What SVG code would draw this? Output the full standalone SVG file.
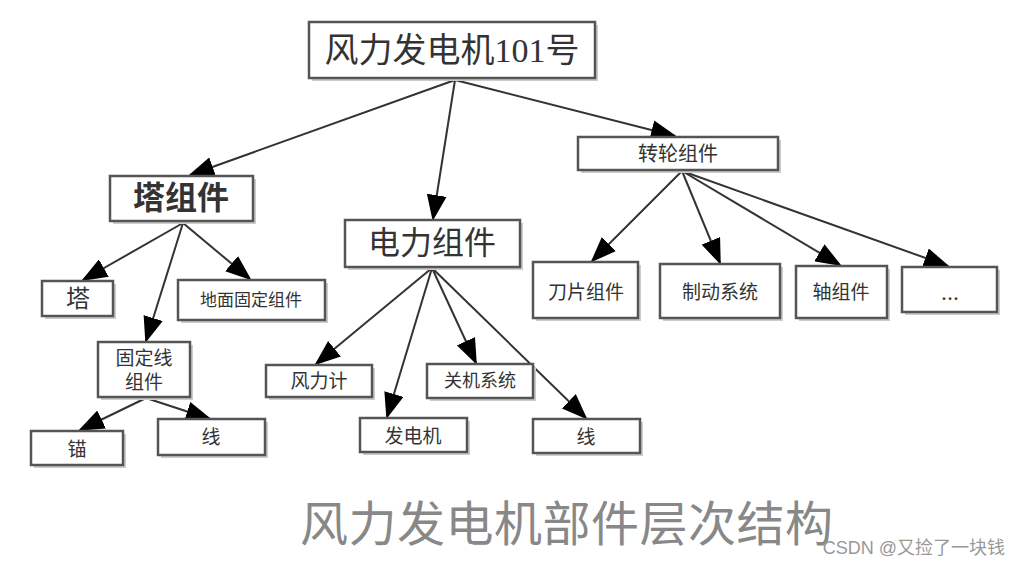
<svg xmlns="http://www.w3.org/2000/svg" width="1020" height="565" viewBox="0 0 1020 565">
<style>
.box{fill:#fff;stroke:#555;stroke-width:2.5}
.sh{fill:#ccc}
.t{font-family:"Liberation Serif","Noto Sans CJK SC",serif;fill:#333;text-anchor:middle;dominant-baseline:central}
.c{stroke:#333;stroke-width:2;fill:none;marker-end:url(#ah)}
</style>
<defs>
<marker id="ah" markerUnits="userSpaceOnUse" markerWidth="26" markerHeight="20" refX="24" refY="10" orient="auto">
<path d="M0,0 L26,10 L0,20 Z" fill="#000"/>
</marker>
</defs>
<rect width="1020" height="565" fill="#fff"/>
<g id="connectors">
<line class="c" x1="455" y1="80" x2="190" y2="175"/>
<line class="c" x1="455" y1="80" x2="433" y2="219"/>
<line class="c" x1="455" y1="80" x2="675" y2="136"/>
<line class="c" x1="183" y1="223" x2="83" y2="280"/>
<line class="c" x1="183" y1="223" x2="146" y2="341"/>
<line class="c" x1="183" y1="223" x2="250" y2="279"/>
<line class="c" x1="146" y1="398" x2="80" y2="430"/>
<line class="c" x1="146" y1="398" x2="210" y2="419"/>
<line class="c" x1="432" y1="268" x2="316" y2="364"/>
<line class="c" x1="432" y1="268" x2="387" y2="417"/>
<line class="c" x1="432" y1="268" x2="476" y2="363"/>
<line class="c" x1="432" y1="268" x2="586" y2="418"/>
<line class="c" x1="682" y1="171" x2="592" y2="261"/>
<line class="c" x1="682" y1="171" x2="720" y2="263"/>
<line class="c" x1="682" y1="171" x2="840" y2="265"/>
<line class="c" x1="682" y1="171" x2="948" y2="266"/>
</g>
<g id="root"><rect class="sh" x="312" y="25" width="286" height="56"/><rect class="box" x="309" y="22" width="286" height="56"/><text class="t" x="452" y="50" font-size="34">风力发电机101号</text></g>
<g id="tower-assembly"><rect class="sh" x="113" y="179" width="143" height="45"/><rect class="box" x="110" y="176" width="143" height="45"/><text class="t" x="181" y="198" font-size="32" font-weight="bold">塔组件</text></g>
<g id="power-assembly"><rect class="sh" x="348" y="223" width="175" height="47"/><rect class="box" x="345" y="220" width="175" height="47"/><text class="t" x="432" y="243" font-size="32">电力组件</text></g>
<g id="rotor-assembly"><rect class="sh" x="581" y="140" width="200" height="33"/><rect class="box" x="578" y="137" width="200" height="33"/><text class="t" x="678" y="154" font-size="20">转轮组件</text></g>
<g id="tower"><rect class="sh" x="45" y="284" width="71" height="35"/><rect class="box" x="42" y="281" width="71" height="35"/><text class="t" x="78" y="299" font-size="24">塔</text></g>
<g id="ground-fix"><rect class="sh" x="181" y="283" width="147" height="40"/><rect class="box" x="178" y="280" width="147" height="40"/><text class="t" x="251" y="300" font-size="17">地面固定组件</text></g>
<g id="wire-fix"><rect class="sh" x="101" y="345" width="92" height="55"/><rect class="box" x="98" y="342" width="92" height="55"/><text class="t" x="144" y="358" font-size="19">固定线</text><text class="t" x="144" y="382" font-size="19">组件</text></g>
<g id="anchor"><rect class="sh" x="34" y="434" width="92" height="34"/><rect class="box" x="31" y="431" width="92" height="34"/><text class="t" x="77" y="449" font-size="19">锚</text></g>
<g id="wire1"><rect class="sh" x="161" y="422" width="107" height="36"/><rect class="box" x="158" y="419" width="107" height="36"/><text class="t" x="211" y="437" font-size="19">线</text></g>
<g id="anemometer"><rect class="sh" x="269" y="368" width="106" height="32"/><rect class="box" x="266" y="365" width="106" height="32"/><text class="t" x="319" y="381" font-size="19">风力计</text></g>
<g id="generator"><rect class="sh" x="363" y="421" width="107" height="34"/><rect class="box" x="360" y="418" width="107" height="34"/><text class="t" x="413" y="436" font-size="19">发电机</text></g>
<g id="shutdown"><rect class="sh" x="430" y="367" width="106" height="34"/><rect class="box" x="427" y="364" width="106" height="34"/><text class="t" x="480" y="381" font-size="18">关机系统</text></g>
<g id="wire2"><rect class="sh" x="536" y="422" width="107" height="34"/><rect class="box" x="533" y="419" width="107" height="34"/><text class="t" x="586" y="437" font-size="19">线</text></g>
<g id="blade"><rect class="sh" x="536" y="265" width="105" height="56"/><rect class="box" x="533" y="262" width="105" height="56"/><text class="t" x="586" y="292" font-size="19">刀片组件</text></g>
<g id="brake"><rect class="sh" x="663" y="267" width="120" height="54"/><rect class="box" x="660" y="264" width="120" height="54"/><text class="t" x="720" y="292" font-size="19">制动系统</text></g>
<g id="shaft"><rect class="sh" x="799" y="269" width="91" height="52"/><rect class="box" x="796" y="266" width="91" height="52"/><text class="t" x="841" y="292" font-size="19">轴组件</text></g>
<g id="more"><rect class="sh" x="905" y="270" width="95" height="45"/><rect class="box" x="902" y="267" width="95" height="45"/><text class="t" x="950" y="292" font-size="24">...</text></g>
<text x="300" y="541" font-family="'Noto Sans CJK SC',sans-serif" font-size="48" letter-spacing="0.5" fill="#888">风力发电机部件层次结构</text>
<text x="1005" y="554" text-anchor="end" font-family="'Liberation Sans','Noto Sans CJK SC',sans-serif" font-size="18" fill="#999">CSDN @又捡了一块钱</text>
</svg>
